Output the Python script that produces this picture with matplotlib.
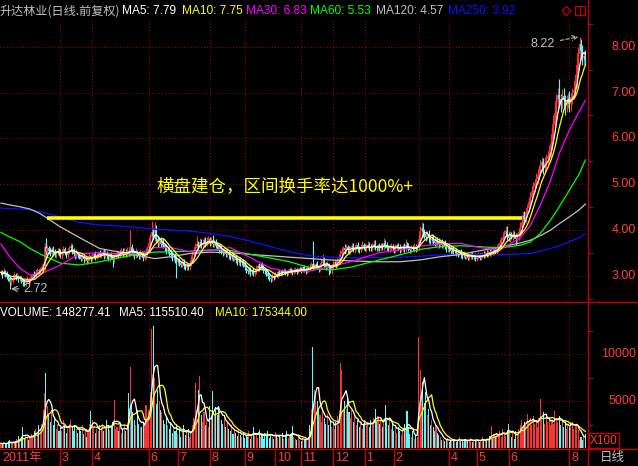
import numpy as np
import pandas as pd
import matplotlib
matplotlib.use("Agg")
import matplotlib.pyplot as plt
from matplotlib.lines import Line2D
from matplotlib.patches import Rectangle, Polygon
from matplotlib.transforms import blended_transform_factory

# ========================= DATA =========================
# daily closing prices, one per trading day (2011-01 .. 2012-08)
close = [
    3.08, 3.02, 3.10, 3.05, 2.98, 2.95, 2.86, 2.90, 2.95, 3.02,
    2.97, 3.00, 2.93, 2.96, 2.91, 2.86, 2.84, 2.88, 2.92, 2.89,
    2.95, 2.98, 3.04, 3.00, 3.08, 3.12, 3.10, 3.15, 3.20, 3.24,
    3.62, 3.52, 3.60, 3.55, 3.48, 3.58, 3.52, 3.47, 3.50, 3.55,
    3.49, 3.45, 3.52, 3.58, 3.50, 3.46, 3.53, 3.60, 3.65, 3.55,
    3.48, 3.44, 3.50, 3.47, 3.42, 3.38, 3.42, 3.36, 3.40, 3.33,
    3.37, 3.42, 3.38, 3.44, 3.47, 3.41, 3.45, 3.50, 3.46, 3.48,
    3.52, 3.45, 3.50, 3.43, 3.38, 3.46, 3.42, 3.35, 3.44, 3.48,
    3.50, 3.46, 3.52, 3.55, 3.48, 3.52, 3.47, 3.54, 3.50, 3.62,
    3.55, 3.50, 3.45, 3.52, 3.48, 3.44, 3.50, 3.46, 3.40, 3.44,
    3.52, 3.60, 3.72, 3.85, 3.95, 3.88, 4.02, 3.80, 3.72, 3.76,
    3.70, 3.74, 3.68, 3.62, 3.55, 3.58, 3.50, 3.46, 3.40, 3.44,
    3.36, 3.30, 3.34, 3.28, 3.25, 3.30, 3.22, 3.18, 3.24, 3.20,
    3.28, 3.35, 3.45, 3.55, 3.62, 3.70, 3.66, 3.74, 3.68, 3.72,
    3.78, 3.70, 3.75, 3.80, 3.72, 3.78, 3.70, 3.74, 3.66, 3.64,
    3.58, 3.62, 3.55, 3.50, 3.56, 3.48, 3.52, 3.45, 3.40, 3.46,
    3.38, 3.42, 3.35, 3.30, 3.36, 3.28, 3.32, 3.25, 3.20, 3.14,
    3.10, 3.15, 3.08, 3.12, 3.05, 3.10, 3.15, 3.22, 3.18, 3.25,
    3.20, 3.14, 3.10, 3.05, 3.00, 2.96, 2.94, 3.00, 2.97, 3.04,
    3.02, 3.08, 3.05, 3.10, 3.07, 3.12, 3.08, 3.05, 3.10, 3.14,
    3.11, 3.08, 3.12, 3.15, 3.10, 3.13, 3.16, 3.12, 3.18, 3.14,
    3.10, 3.15, 3.20, 3.18, 3.26, 3.19, 3.22, 3.25, 3.20, 3.16,
    3.22, 3.28, 3.35, 3.26, 3.20, 3.24, 3.18, 3.12, 3.20, 3.26,
    3.30, 3.25, 3.32, 3.36, 3.48, 3.55, 3.60, 3.56, 3.62, 3.58,
    3.55, 3.60, 3.64, 3.58, 3.62, 3.66, 3.60, 3.57, 3.63, 3.67,
    3.62, 3.59, 3.64, 3.68, 3.62, 3.60, 3.65, 3.70, 3.63, 3.60,
    3.64, 3.62, 3.66, 3.63, 3.72, 3.68, 3.62, 3.58, 3.62, 3.65,
    3.60, 3.57, 3.62, 3.66, 3.63, 3.58, 3.61, 3.64, 3.60, 3.68,
    3.65, 3.60, 3.57, 3.62, 3.59, 3.63, 3.60, 3.62, 3.80, 3.98,
    4.05, 3.95, 3.90, 3.85, 3.92, 3.82, 3.78, 3.84, 3.76, 3.72,
    3.78, 3.74, 3.70, 3.74, 3.68, 3.72, 3.65, 3.60, 3.63, 3.58,
    3.55, 3.60, 3.52, 3.55, 3.50, 3.48, 3.52, 3.46, 3.44, 3.48,
    3.42, 3.45, 3.40, 3.43, 3.47, 3.41, 3.44, 3.38, 3.42, 3.46,
    3.40, 3.44, 3.48, 3.45, 3.50, 3.47, 3.52, 3.49, 3.55, 3.52,
    3.58, 3.55, 3.60, 3.65, 3.72, 3.78, 3.85, 3.92, 3.98, 3.88,
    3.82, 3.90, 3.86, 3.92, 3.88, 3.80, 3.86, 3.95, 4.05, 4.18,
    4.30, 4.25, 4.38, 4.48, 4.60, 4.72, 4.85, 4.95, 5.02, 5.12,
    5.20, 5.32, 5.40, 5.48, 5.35, 5.45, 5.55, 5.62, 5.72, 5.90,
    6.10, 6.30, 6.55, 6.80, 6.95, 6.85, 6.78, 6.92, 6.85, 6.72,
    6.80, 6.88, 6.75, 6.90, 6.98, 7.05, 7.25, 7.60, 7.85, 8.05,
    7.90, 7.75, 7.80, 7.72,
]

# upper / lower shadows, in cents beyond the candle body
up_wick = [
    6, 4, 7, 3, 6, 5, 3, 7, 4, 6,   5, 7, 3, 6, 4, 3, 6, 5, 7, 3,
    4, 6, 3, 7, 5, 6, 3, 5, 6, 4,   9, 21, 7, 6, 9, 5, 7, 6, 4, 7,
    6, 9, 5, 7, 6, 4, 8, 6, 7, 5,   6, 4, 8, 3, 6, 5, 7, 6, 4, 3,
    6, 8, 4, 6, 5, 8, 6, 4, 7, 6,   5, 6, 8, 4, 6, 5, 7, 3, 6, 5,
    6, 4, 7, 6, 5, 8, 6, 9, 5, 38,  7, 5, 6, 9, 4, 6, 8, 5, 6, 4,
    7, 6, 9, 7, 25, 10, 16, 9, 7, 6,  8, 6, 9, 5, 7, 6, 5, 8, 6, 4,
    6, 8, 5, 6, 4, 7, 6, 5, 6, 4,   6, 7, 9, 8, 10, 18, 7, 9, 6, 8,
    8, 6, 9, 7, 6, 8, 12, 6, 7, 5,  6, 8, 5, 6, 7, 5, 6, 4, 6, 8,
    5, 6, 4, 6, 5, 6, 4, 6, 5, 4,   4, 6, 5, 3, 5, 6, 8, 5, 6, 4,
    6, 4, 3, 5, 6, 3, 4, 6, 5, 6,   4, 6, 4, 3, 6, 5, 3, 4, 6, 5,
    3, 5, 6, 4, 3, 5, 6, 4, 3, 6,   5, 6, 3, 7, 5, 50, 6, 5, 8, 4,
    6, 8, 13, 6, 5, 8, 4, 6, 5, 8,  6, 5, 8, 6, 9, 8, 6, 9, 7, 6,
    8, 6, 9, 7, 5, 6, 8, 6, 7, 9,   6, 8, 5, 9, 6, 7, 6, 9, 8, 5,
    6, 8, 5, 6, 10, 7, 6, 5, 8, 6,  5, 6, 8, 5, 6, 7, 5, 6, 8, 13,
    6, 7, 5, 6, 5, 8, 6, 5, 10, 12,  13, 10, 8, 9, 7, 8, 6, 7, 8, 6,
    7, 6, 8, 6, 7, 5, 6, 7, 5, 6,   7, 5, 6, 4, 6, 7, 5, 6, 4, 6,
    5, 6, 4, 6, 5, 6, 4, 6, 5, 6,   4, 6, 5, 6, 4, 6, 5, 6, 7, 6,
    7, 6, 8, 7, 9, 8, 10, 9, 12, 10,  7, 9, 6, 8, 7, 6, 8, 9, 12, 15,
    10, 12, 8, 9, 10, 12, 11, 9, 10, 12,   13, 11, 14, 12, 10, 15, 12, 11, 13, 18,
    15, 20, 18, 16, 14, 34, 12, 15, 18, 10,  14, 12, 15, 10, 12, 14, 16, 18, 15, 17,
    12, 14, 10, 12,
]
down_wick = [
    5, 6, 3, 7, 5, 6, 14, 5, 6, 3,  6, 4, 7, 3, 6, 7, 5, 6, 3, 6,
    4, 3, 6, 5, 3, 5, 6, 3, 4, 6,   10, 7, 6, 7, 5, 6, 8, 6, 7, 5,
    6, 5, 7, 6, 4, 7, 6, 5, 6, 7,   5, 6, 4, 7, 6, 5, 6, 7, 4, 6,
    6, 4, 7, 5, 6, 7, 4, 6, 5, 6,   5, 7, 6, 4, 6, 7, 5, 15, 6, 5,
    6, 7, 5, 6, 7, 4, 6, 5, 7, 6,   7, 6, 8, 5, 6, 7, 6, 4, 7, 6,
    6, 7, 8, 7, 10, 8, 11, 9, 8, 7,  7, 6, 8, 7, 6, 8, 7, 6, 7, 8,
    7, 34, 6, 7, 6, 5, 7, 6, 5, 7,  6, 7, 5, 6, 7, 6, 7, 5, 6, 7,
    6, 7, 5, 6, 7, 5, 6, 7, 6, 7,   7, 6, 7, 6, 5, 7, 6, 7, 6, 5,
    6, 5, 7, 6, 5, 7, 6, 5, 6, 7,   6, 5, 7, 6, 4, 6, 5, 6, 7, 5,
    6, 7, 5, 6, 7, 6, 7, 5, 6, 4,   4, 6, 5, 6, 4, 3, 6, 5, 3, 4,
    4, 6, 3, 5, 6, 4, 3, 6, 4, 5,   6, 4, 6, 5, 3, 6, 4, 6, 5, 7,
    5, 6, 4, 7, 6, 5, 16, 6, 7, 5,  6, 7, 5, 6, 7, 8, 6, 7, 6, 7,
    6, 7, 6, 5, 7, 6, 7, 6, 5, 7,   6, 5, 7, 6, 7, 6, 5, 7, 6, 5,
    6, 7, 5, 6, 7, 6, 7, 5, 6, 7,   5, 6, 7, 5, 6, 7, 5, 6, 7, 6,
    6, 5, 7, 6, 5, 6, 7, 5, 6, 8,   8, 10, 9, 8, 7, 9, 8, 7, 8, 7,
    7, 6, 8, 7, 6, 7, 6, 7, 8, 6,   6, 7, 6, 5, 7, 6, 5, 7, 6, 5,
    6, 5, 6, 5, 6, 5, 6, 5, 6, 5,   5, 6, 5, 6, 5, 6, 5, 6, 5, 6,
    6, 7, 6, 8, 7, 8, 7, 9, 8, 10,  6, 7, 6, 7, 5, 12, 6, 7, 8, 9,
    10, 12, 9, 10, 8, 11, 10, 9, 12, 10,   12, 10, 11, 14, 12, 10, 13, 11, 12, 14,
    15, 16, 14, 18, 15, 16, 20, 14, 16, 22,  15, 14, 18, 16, 14, 12, 15, 16, 18, 15,
    16, 14, 15, 12,
]

# daily volume, thousands of (x100 shares)
volume_k = [
    0.5, 0.4, 0.6, 0.4, 0.5, 0.7, 0.8, 0.6, 0.5, 0.5, 0.7,
    1.0, 1.3, 0.9, 1.2, 2.2, 1.0, 1.4, 1.1, 0.8, 1.2,
    1.5, 1.2, 1.8, 2.0, 1.4, 2.5, 2.0, 2.6, 4.0, 5.8, 8.0,
    4.5, 3.5, 2.8, 4.0, 2.5, 3.2, 2.0, 2.6, 1.8,
    2.2, 1.8, 3.0, 2.4, 1.6, 2.0, 2.6, 3.0, 2.2, 1.8, 2.4, 2.0, 1.6, 2.2,
    1.8, 2.4, 1.5, 2.0, 1.2, 1.8, 2.6, 3.9, 3.0, 2.2, 1.6, 2.0, 1.8, 2.4,
    2.0, 2.6, 1.8, 2.2, 3.0, 2.4, 1.9, 2.2, 2.8, 5.1, 2.0,
    2.2, 1.8, 2.5, 1.6, 2.0, 2.4, 1.8, 2.2, 5.9, 8.6, 4.7, 3.8, 3.0, 2.5, 4.0, 2.6, 2.2,
    2.2, 2.8, 2.4, 4.6, 3.2, 4.0, 6.0,
    12.7, 13.0, 7.4, 4.7, 6.2, 5.0, 4.0,
    3.8, 3.0, 2.6, 3.4, 2.4, 2.0, 2.8,
    1.6, 2.2, 1.8, 2.6, 1.5, 2.0, 1.2, 1.8, 2.4, 1.4, 1.6, 2.0, 1.2,
    1.8, 2.4, 3.2, 6.9, 4.0, 6.2, 7.7,
    3.5, 2.8, 3.8, 2.4, 3.0, 2.2, 4.5, 3.2, 6.1, 3.6, 4.2,
    3.5, 4.5, 3.8, 3.0, 2.6, 3.4, 2.2, 2.8, 2.0,
    1.8, 2.4, 1.5, 2.0, 1.6, 1.3, 1.9, 1.4, 1.2, 1.6, 1.1,
    1.4, 1.2, 1.8, 1.0, 1.5, 2.2, 1.3, 1.6, 1.1, 1.9, 1.2, 1.4,
    1.0, 1.6, 1.3, 1.8, 1.1, 1.5, 1.2, 1.0, 1.7, 1.3, 1.1, 1.4,
    1.2, 1.6, 1.0, 1.4, 1.8, 1.1, 1.3, 1.5, 2.3, 1.2, 1.0, 0.8, 1.3, 0.9, 0.7, 1.1, 0.8, 1.0,
    0.9, 1.2, 2.4, 4.2, 10.7, 6.2, 6.0,
    5.0, 4.2, 3.5, 2.8, 4.4, 3.2, 2.6, 3.6, 2.4, 3.0, 2.2, 2.6, 2.0,
    2.8, 3.4, 2.5, 9.0, 8.3, 4.0, 5.0, 4.2, 5.5, 3.8,
    3.2, 4.0, 2.8, 3.5, 2.4, 3.0, 2.2, 2.8, 2.0, 2.6,
    3.0, 2.4, 2.8, 2.2, 3.0, 2.5, 3.2, 4.2, 2.8, 3.4,
    2.6, 3.0, 2.2, 2.8, 4.6, 3.0, 2.4, 3.2, 2.0, 2.6,
    1.8, 2.4, 1.6, 2.2, 1.8, 1.4, 2.0, 2.6, 1.8, 3.9,
    2.2, 1.5, 1.2, 1.8, 1.0, 1.4, 1.2,
    11.8, 8.3, 5.5, 7.0, 4.8,
    6.0, 3.5, 4.2, 2.5, 3.0, 2.2, 1.8, 2.4, 1.6, 1.4,
    1.2, 0.9, 1.0, 0.7, 0.8, 1.1, 0.6, 0.9, 0.7, 1.0,
    0.8, 0.6, 0.9, 1.2, 0.7, 0.8, 0.6, 1.0, 0.9, 0.7,
    0.8, 1.1, 0.6, 0.9, 0.7, 1.0, 0.8, 0.6, 0.9, 1.2,
    0.8, 0.7, 1.0, 0.9, 1.3, 2.3, 1.0, 1.5, 1.2, 1.6, 1.4,
    1.8, 1.2, 2.0, 1.5, 1.3, 1.9, 2.6, 1.7, 1.2, 1.6, 1.0, 1.8, 1.4, 2.0,
    2.4, 3.0, 2.2, 2.8, 2.5, 3.6, 2.8, 3.2, 2.4, 3.4, 2.6, 3.0, 2.2, 3.2,
    5.2, 3.0, 3.8, 2.6, 3.4, 2.8, 3.2, 2.4, 3.0, 2.6, 3.9, 3.2, 2.8, 3.4,
    2.4, 3.0, 2.2, 2.8, 2.0, 2.6, 2.2, 2.8,
    2.8, 2.0, 2.4, 2.6, 1.9, 0.9, 1.2, 0.8, 1.4, 1.48,
]

# long moving averages (need history before the chart) read at sample days
ma_day = [0, 6, 13, 20, 27, 41, 54, 68, 82, 96, 106, 117, 130, 144, 158, 172, 186, 199,
          213, 227, 241, 261, 275, 289, 303, 317, 330, 344, 358, 365, 372, 379, 385, 392, 399, 403]
ma30 = [3.70, 3.42, 3.17, 3.02, 3.04, 3.24, 3.48, 3.51, 3.48, 3.50, 3.62, 3.62, 3.53, 3.55,
        3.62, 3.40, 3.17, 3.09, 3.11, 3.20, 3.31, 3.51, 3.57, 3.65, 3.70, 3.71, 3.62, 3.57,
        3.83, 4.10, 4.55, 5.08, 5.67, 6.18, 6.60, 6.83]
ma60 = [3.95, 3.85, 3.75, 3.60, 3.48, 3.28, 3.24, 3.31, 3.40, 3.49, 3.52, 3.53, 3.54, 3.57,
        3.56, 3.47, 3.39, 3.31, 3.18, 3.13, 3.19, 3.35, 3.46, 3.58, 3.64, 3.66, 3.64, 3.61,
        3.67, 3.74, 3.93, 4.22, 4.51, 4.87, 5.24, 5.53]
ma120 = [4.59, 4.55, 4.51, 4.46, 4.36, 4.07, 3.84, 3.60, 3.52, 3.44, 3.38, 3.42, 3.49, 3.52,
         3.51, 3.47, 3.44, 3.41, 3.38, 3.35, 3.33, 3.31, 3.31, 3.35, 3.42, 3.47, 3.55, 3.63,
         3.72, 3.78, 3.88, 4.00, 4.14, 4.29, 4.45, 4.57]
ma250 = [4.48, 4.47, 4.46, 4.45, 4.40, 4.29, 4.17, 4.11, 4.09, 4.05, 4.02, 4.00, 3.98, 3.93,
         3.86, 3.76, 3.64, 3.53, 3.44, 3.41, 3.40, 3.40, 3.41, 3.43, 3.46, 3.47, 3.47, 3.46,
         3.48, 3.49, 3.54, 3.60, 3.66, 3.75, 3.84, 3.92]

# axis labels
month_labels = ['2011年', '3', '4', '6', '7', '8', '9', '10', '11', '12', '1', '2', '4', '5', '6', '8']
month_day = [0, 41, 63, 102, 122, 144, 168, 189, 207, 229, 251, 271, 309, 328, 350, 392]
grid_day = [41, 63, 102, 144, 168, 207, 229, 251, 288, 309, 350, 392]
price_ticks = [3, 4, 5, 6, 7, 8]
vol_ticks = [5000, 10000]

# annotations
box_level, box_start, box_end = 4.26, 32, 359
high_val, high_day = 8.22, 399
low_val, low_day = 2.72, 6

title_name = '升达林业(日线.前复权)'
legend_names = ['MA5', 'MA10', 'MA30', 'MA60', 'MA120', 'MA250']
legend_vals = ['7.79', '7.75', '6.83', '5.53', '4.57', '3.92']
vol_title = ['VOLUME: 148277.41', 'MA5: 115510.40', 'MA10: 175344.00']
note_text = '横盘建仓，区间换手率达1000%+'

# ========================= STYLE / LAYOUT =========================
W, H = 638, 466
PX = 1.45      # pixels per trading day
X0 = 1.0       # pixel of the first day
XR = 588       # right edge of the plot area (pixels)

RED = '#ff3c3c'
BAR_RED = '#ff3232'
CYAN = '#54fcfc'
FRAME = '#c00000'
GRID = '#a00000'
GRAY = '#c0c0c0'
YEL = '#ffff00'
MAG = '#ff00ff'
GRN = '#00ff00'
BLUE = '#1010ff'
LAT = ['Liberation Sans', 'Noto Sans CJK SC']
CJK = ['Noto Sans CJK SC', 'DejaVu Sans']
DOTS = (0, (1, 2.1))


def fr(x0, y0, x1, y1):
    return [x0 / W, 1 - y1 / H, (x1 - x0) / W, (y1 - y0) / H]


def price_at(y):
    return 3 + (276 - y) / 45.86


def vol_at(y):
    return (448 - y) / 9.4 * 1000


def day_at(x):
    return (x - X0) / PX


fig = plt.figure(figsize=(W / 100, H / 100), dpi=100)
fig.patch.set_facecolor('black')

ax_p = fig.add_axes(fr(0, 20, XR, 302))
ax_v = fig.add_axes(fr(0, 302, XR, 449))
ax_d = fig.add_axes(fr(0, 449, XR, H))
xlim = (day_at(0), day_at(XR))
for ax in (ax_p, ax_v, ax_d):
    ax.set_facecolor('black')
    ax.set_xlim(*xlim)
    ax.set_axis_off()
ax_p.set_ylim(price_at(302), price_at(20))
ax_v.set_ylim(vol_at(449), vol_at(302))
ax_d.set_ylim(0, 1)

# ---- grids ----
for p in price_ticks:
    ax_p.plot(xlim, [p, p], color=GRID, lw=0.75, ls=DOTS, zorder=0)
for v in vol_ticks:
    ax_v.plot(xlim, [v, v], color=GRID, lw=0.75, ls=DOTS, zorder=0)
for d in grid_day:
    ax_p.plot([d, d], ax_p.get_ylim(), color=GRID, lw=0.75, ls=DOTS, zorder=0)
    ax_v.plot([d, d], ax_v.get_ylim(), color=GRID, lw=0.75, ls=DOTS, zorder=0)

# ---- candles ----
c = np.array(close, dtype=float)
o = np.r_[c[0], c[:-1]]
idx = np.arange(len(c))
hi = np.maximum(o, c) + np.array(up_wick) / 100.0
lo = np.minimum(o, c) - np.array(down_wick) / 100.0
up = c >= o
cols = np.where(up, BAR_RED, CYAN)
ax_p.vlines(idx, lo, hi, colors=cols, lw=0.8, zorder=2)
ax_p.vlines(idx, np.minimum(o, c), np.maximum(o, c) + 0.006, colors=cols, lw=1.25, zorder=2)

# ---- moving averages ----
s = pd.Series(c)
ax_p.plot(ma_day, ma250, color=BLUE, lw=0.9, zorder=3)
ax_p.plot(ma_day, ma120, color=GRAY, lw=0.9, zorder=3)
ax_p.plot(ma_day, ma60, color=GRN, lw=0.9, zorder=3)
ax_p.plot(ma_day, ma30, color=MAG, lw=0.9, zorder=3)
ax_p.plot(idx, s.rolling(10, min_periods=1).mean(), color=YEL, lw=0.9, zorder=4)
ax_p.plot(idx, s.rolling(5, min_periods=1).mean(), color='white', lw=0.9, zorder=4)

# ---- consolidation box line & note ----
ax_p.plot([box_start, box_end], [box_level, box_level], color=YEL, lw=2.6,
          solid_capstyle='butt', zorder=5)
ax_p.text(day_at(157), price_at(187), note_text, color=YEL, fontsize=12.6,
          family=CJK, ha='left', va='center', zorder=6)

ax_p.annotate(f'{high_val:.2f}', xy=(high_day, high_val), xytext=(day_at(555), price_at(44)),
              ha='right', va='center', color=GRAY, fontsize=9, family=LAT,
              arrowprops=dict(arrowstyle='->', color=GRAY, lw=0.8, ls=(0, (3, 2)),
                              shrinkA=2, shrinkB=1), zorder=6)
ax_p.annotate(f'{low_val:.2f}', xy=(low_day, low_val), xytext=(day_at(23), price_at(289)),
              ha='left', va='center', color=GRAY, fontsize=9, family=LAT,
              arrowprops=dict(arrowstyle='->', color=GRAY, lw=0.8, shrinkA=1, shrinkB=1),
              zorder=6)

# ---- volume ----
vol = np.array(volume_k) * 1000.0
ax_v.bar(idx, vol, width=0.75, color=cols, linewidth=0, zorder=2)
vs = pd.Series(vol)
ax_v.plot(idx, vs.rolling(10, min_periods=1).mean(), color=YEL, lw=0.9, zorder=4)
ax_v.plot(idx, vs.rolling(5, min_periods=1).mean(), color='white', lw=0.9, zorder=4)

# ---- date axis ----
for lab, d in zip(month_labels, month_day):
    if d > 0:
        ax_d.plot([d, d], [0, 1], color=FRAME, lw=1.0)
    ax_d.text(d + 1.6 / PX, 0.45, lab, color=RED, fontsize=9, family=LAT,
              ha='left', va='center')

# ---- frame lines ----
for yy in (302, 449):
    fig.add_artist(Line2D([0, 1], [1 - yy / H] * 2, color=FRAME, lw=1.0,
                          transform=fig.transFigure))
fig.add_artist(Line2D([XR / W] * 2, [0, 1], color=FRAME, lw=1.0, transform=fig.transFigure))

# ---- right scales ----
bt_p = blended_transform_factory(fig.transFigure, ax_p.transData)
bt_v = blended_transform_factory(fig.transFigure, ax_v.transData)
for p in price_ticks:
    fig.text(636 / W, 0, f'{p:.2f}', transform=bt_p, ha='right', va='center',
             color=RED, fontsize=9, family=LAT).set_y(p)
for k in range(5, 18):
    pm = k / 2.0
    if pm in price_ticks:
        continue
    fig.add_artist(Line2D([XR / W, (XR + 4) / W], [pm, pm], color=FRAME, lw=0.8,
                          transform=bt_p))
for v in vol_ticks:
    fig.text(636 / W, 0, f'{v}', transform=bt_v, ha='right', va='center',
             color=RED, fontsize=9, family=LAT).set_y(v)
for v in (2500, 7500, 12500):
    fig.add_artist(Line2D([XR / W, (XR + 4) / W], [v, v], color=FRAME, lw=0.8,
                          transform=bt_v))

fig.add_artist(Rectangle((589 / W, 1 - 448 / H), 30 / W, 15 / H, transform=fig.transFigure,
                         fill=False, edgecolor=FRAME, lw=1.0))
fig.text(604 / W, 1 - 440.5 / H, 'X100', ha='center', va='center', color=RED,
         fontsize=8.5, family=LAT)
fig.text(612 / W, 1 - 457.5 / H, '日线', ha='center', va='center', color=GRAY,
         fontsize=9, family=CJK)

# ---- title row ----
fig.text(0, 1 - 11 / H, title_name, ha='left', va='center', color=GRAY, fontsize=8.7,
         family=CJK)
leg_x = [122, 182, 246, 310, 376, 448]
leg_c = ['white', YEL, MAG, GRN, GRAY, BLUE]
for name, val, xx, cc in zip(legend_names, legend_vals, leg_x, leg_c):
    fig.text(xx / W, 1 - 11 / H, f'{name}: {val}', ha='left', va='center', color=cc,
             fontsize=8.6, family=LAT)
fig.add_artist(Polygon([[562 / W, 1 - 11 / H], [566.5 / W, 1 - 6.5 / H],
                        [571 / W, 1 - 11 / H], [566.5 / W, 1 - 15.5 / H]], closed=True,
                       fill=False, edgecolor=FRAME, lw=0.9, transform=fig.transFigure))
fig.add_artist(Rectangle((575 / W, 1 - 15 / H), 10 / W, 9 / H, fill=False, edgecolor=FRAME,
                         lw=0.9, transform=fig.transFigure))
fig.add_artist(Line2D([580 / W] * 2, [1 - 15 / H, 1 - 6 / H], color=FRAME, lw=0.9,
                      transform=fig.transFigure))

# ---- volume title ----
vt_x = [0, 119, 215]
vt_c = ['white', 'white', YEL]
for t, xx, cc in zip(vol_title, vt_x, vt_c):
    fig.text(xx / W, 1 - 313 / H, t, ha='left', va='center', color=cc, fontsize=8.4,
             family=LAT)

fig.savefig('out.png', dpi=100, facecolor='black')
